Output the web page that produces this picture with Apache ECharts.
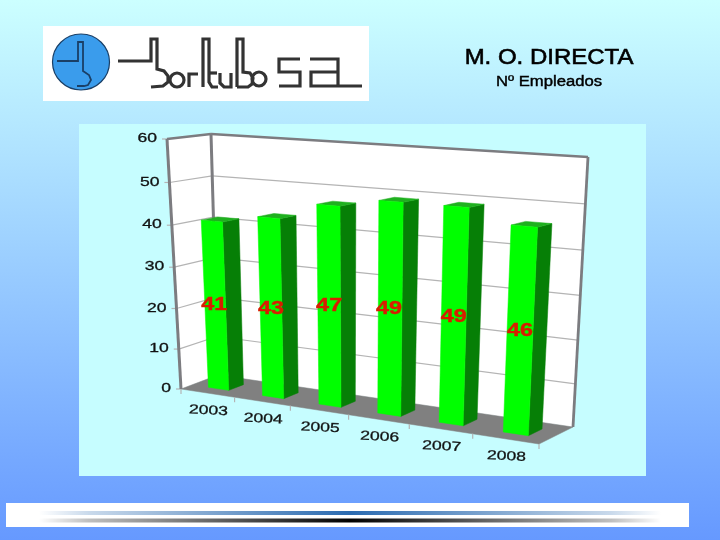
<!DOCTYPE html>
<html>
<head>
<meta charset="utf-8">
<style>html,body{margin:0;padding:0;background:#fff}#c{width:720px;height:540px}</style>
<script src="https://cdn.jsdelivr.net/npm/echarts@6/dist/echarts.min.js"></script>
</head>
<body>
<div id="c"></div>
<script>
// ---- data ----
const categories = ['2003', '2004', '2005', '2006', '2007', '2008'];
const employees = [41, 43, 47, 49, 49, 46];
const valueTicks = [0, 10, 20, 30, 40, 50, 60];
const titleText = 'M. O. DIRECTA';
const subtitleText = 'Nº Empleados';

// ---- label placement in the original (value height up the bar, sideways nudge) ----
const labelRaise = [20.8, 21.4, 23.9, 24.8, 24.6, 23.2];
const labelNudge = [-1, 0, 0, -1, 0, 0];

// ---- 3D box projection (style) ----
const box = {
  fl0: [181, 389], fl1: [167, 139],   // front-left  bottom/top
  bl0: [218, 375], bl1: [211, 134],   // back-left   bottom/top
  br0: [573, 427], br1: [588, 157],   // back-right  bottom/top
  fr0: [539, 444], fr1: [552, 164]    // front-right bottom/top
};
const kU = 0.88, kV = 0.95, depthFront = 0.3, depthBack = 0.7, barFraction = 0.38;
const warp = (t, k) => k * t / (1 - t + k * t);
const mix = (a, b, t) => [a[0] + (b[0] - a[0]) * t, a[1] + (b[1] - a[1]) * t];
function project(u, v, w) {
  const uu = warp(u, kU), vv = warp(v, kV);
  const front = mix(mix(box.fl0, box.fr0, uu), mix(box.fl1, box.fr1, uu), vv);
  const back = mix(mix(box.bl0, box.br0, uu), mix(box.bl1, box.br1, uu), vv);
  return mix(front, back, w);
}
const GRID = '#b4b4b4', EDGE = '#7c7c80', FLOOR = '#808080', FONT = '"Liberation Sans", Arial, sans-serif';

function normalise(params, api, cat, val) {
  const p = api.coord([cat, val]), r = params.coordSys;
  return [(p[0] - r.x) / r.width, (r.y + r.height - p[1]) / r.height];
}
const poly = (pts, fill) => ({ type: 'polygon', shape: { points: pts }, style: { fill: fill, stroke: fill, lineWidth: 0.5 } });
const line = (a, b, color, lw) => ({ type: 'line', shape: { x1: a[0], y1: a[1], x2: b[0], y2: b[1] }, style: { stroke: color, lineWidth: lw } });

function renderFrame(params, api) {
  if (params.dataIndex !== 0) return null;
  const kids = [];
  kids.push(poly([project(0, 0, 0), project(0, 1, 0), project(0, 1, 1), project(0, 0, 1)], '#ffffff'));
  kids.push(poly([project(0, 0, 1), project(0, 1, 1), project(1, 1, 1), project(1, 0, 1)], '#ffffff'));
  kids.push(poly([project(0, 0, 0), project(0, 0, 1), project(1, 0, 1), project(1, 0, 0)], FLOOR));
  const rect = params.coordSys;
  valueTicks.forEach(t => {
    const v = normalise(params, api, 0, t)[1];
    if (t > 0 && t < 60) {
      kids.push(line(project(0, v, 0), project(0, v, 1), GRID, 1.2));
      kids.push(line(project(0, v, 1), project(1, v, 1), GRID, 1.2));
    }
    const a = project(0, v, 0);
    kids.push(line([a[0] - 5, a[1]], a, GRID, 1.2));
    kids.push({ type: 'text', x: a[0] - 10, y: a[1] - 0.5, scaleX: 1.35,
      style: { text: String(t), fill: '#111', stroke: '#111', lineWidth: 0.3, font: '13px ' + FONT, align: 'right', verticalAlign: 'middle' } });
  });
  kids.push(line(project(0, 0, 0), project(0, 1, 0), EDGE, 3));
  kids.push(line(project(0, 0, 1), project(0, 1, 1), EDGE, 3));
  kids.push(line(project(0, 1, 0), project(0, 1, 1), EDGE, 2.4));
  kids.push(line(project(0, 1, 1), project(1, 1, 1), EDGE, 2.6));
  kids.push(line(project(1, 0, 1), project(1, 1, 1), EDGE, 2.8));
  const band = api.size([1, 0])[0] / rect.width;
  for (let i = 0; i <= categories.length; i++) {
    const u = i * band;
    const a = project(u, 0, 0);
    kids.push(line(a, [a[0], a[1] + 5], GRID, 1.2));
  }
  categories.forEach((c, i) => {
    const u = normalise(params, api, i, 0)[0];
    const a = project(u, 0, 0);
    kids.push({ type: 'text', x: a[0] + 1, y: a[1] + 17.5, scaleX: 1.35, rotation: -0.05,
      style: { text: c, fill: '#111', stroke: '#111', lineWidth: 0.3, font: '13px ' + FONT, align: 'center', verticalAlign: 'middle' } });
  });
  return { type: 'group', children: kids, silent: true };
}

function renderBar(params, api) {
  const i = api.value(0), val = api.value(1);
  const n = normalise(params, api, i, val);
  const half = api.size([1, 0])[0] / params.coordSys.width * barFraction / 2;
  const u0 = n[0] - half, u1 = n[0] + half, v = n[1], w0 = depthFront, w1 = depthBack;
  const kids = [
    poly([project(u1, 0, w0), project(u1, v, w0), project(u1, v, w1), project(u1, 0, w1)], '#067f06'),
    poly([project(u0, v, w0), project(u0, v, w1), project(u1, v, w1), project(u1, v, w0)], '#1fb01f'),
    poly([project(u0, 0, w0), project(u0, v, w0), project(u1, v, w0), project(u1, 0, w0)], '#00ff00')
  ];
  const lv = normalise(params, api, i, labelRaise[i])[1];
  const c = project(n[0], lv, w0);
  kids.push({ type: 'text', x: c[0] + labelNudge[i], y: c[1], scaleX: 1.3,
    style: { text: String(employees[i]), fill: '#d91c00', stroke: '#d91c00', lineWidth: 0.4, font: 'bold 18px ' + FONT, align: 'center', verticalAlign: 'middle' } });
  return { type: 'group', children: kids, silent: true };
}

// ---- logo drawing (decorative strokes) ----
const logoStrokes = [
  [[57,61],[78,61],[78,42],[83,42],[83,71],[89,75],[91,80],[88,85],[84,86],[77,86]],
  [[118,61],[151,61],[151,39],[157,39],[157,69],[164,71],[168,76],[168,82],[163,86],[151,87]],
  [[189,87],[189,74],[198,74]],
  [[203,87],[203,39],[209,39],[209,82],[212,87],[218,87]],
  [[209,73],[217,73]],
  [[220,73],[220,83],[224,87],[231,87],[231,73]],
  [[237,87],[237,39],[243,39],[243,72],[250,73],[253,78],[252,84],[248,87],[237,87]],
  [[300,59],[279,59],[279,72],[300,72],[300,86],[279,86]],
  [[310,59],[338,59],[338,86]],
  [[338,72],[311,72],[311,86],[362,86]]
];
const logoRings = [[177, 80, 7], [259, 79, 7]];

const strip = (y, color) => ({
  type: 'rect', shape: { x: 39, y: y, width: 622, height: 4 },
  style: { fill: new echarts.graphic.LinearGradient(0, 0, 1, 0, [
    { offset: 0, color: color + '00' }, { offset: 0.08, color: color + '40' },
    { offset: 0.5, color: color + 'ff' }, { offset: 0.92, color: color + '40' }, { offset: 1, color: color + '00' }
  ]) }
});

const graphics = [
  { type: 'rect', shape: { x: 79, y: 124, width: 567, height: 352 }, style: { fill: '#c6fdff' } },
  { type: 'rect', shape: { x: 43, y: 26, width: 326, height: 75 }, style: { fill: '#ffffff' } },
  { type: 'ellipse', shape: { cx: 81, cy: 62, rx: 28.5, ry: 28 }, style: { fill: '#3a9cec', stroke: '#1a3f66', lineWidth: 1.2 } },
  { type: 'rect', shape: { x: 6, y: 503, width: 683, height: 24 }, style: { fill: '#ffffff' } },
  strip(511, '#2a6ab0'),
  strip(518.5, '#000000'),
  { type: 'text', x: 549, y: 58, scaleX: 1.09, style: { text: titleText, fill: '#000', stroke: '#000', lineWidth: 0.6, font: '22px ' + FONT, align: 'center', verticalAlign: 'middle' } },
  { type: 'text', x: 549, y: 82, scaleX: 1.19, style: { text: subtitleText, fill: '#000', stroke: '#000', lineWidth: 0.4, font: '14px ' + FONT, align: 'center', verticalAlign: 'middle' } }
];
logoStrokes.forEach((pts, idx) => graphics.push({
  type: 'polyline', shape: { points: pts },
  style: { stroke: idx === 0 ? '#1a3f66' : '#333333', lineWidth: idx === 0 ? 1.8 : 3.2, fill: null }
}));
logoRings.forEach(r => graphics.push({
  type: 'circle', shape: { cx: r[0], cy: r[1], r: r[2] }, style: { stroke: '#333333', lineWidth: 3.2, fill: null }
}));

const chart = echarts.init(document.getElementById('c'), null, { renderer: 'canvas' });
chart.setOption({
  animation: false,
  backgroundColor: new echarts.graphic.LinearGradient(0, 0, 0, 1, [
    { offset: 0, color: '#ccffff' }, { offset: 1, color: '#6699ff' }
  ]),
  graphic: graphics,
  grid: { left: 0, right: 0, top: 0, bottom: 0, show: false },
  xAxis: { type: 'category', data: categories, show: false },
  yAxis: { type: 'value', min: 0, max: 60, interval: 10, show: false },
  series: [
    { type: 'custom', name: 'frame', clip: false, silent: true, z: 2, renderItem: renderFrame,
      encode: { x: 0, y: 1 }, data: [[0, 0]] },
    { type: 'custom', name: 'M. O. DIRECTA', clip: false, silent: true, z: 3, renderItem: renderBar,
      encode: { x: 0, y: 1 }, data: employees.map((v, i) => [i, v]) }
  ]
});
</script>
</body>
</html>
